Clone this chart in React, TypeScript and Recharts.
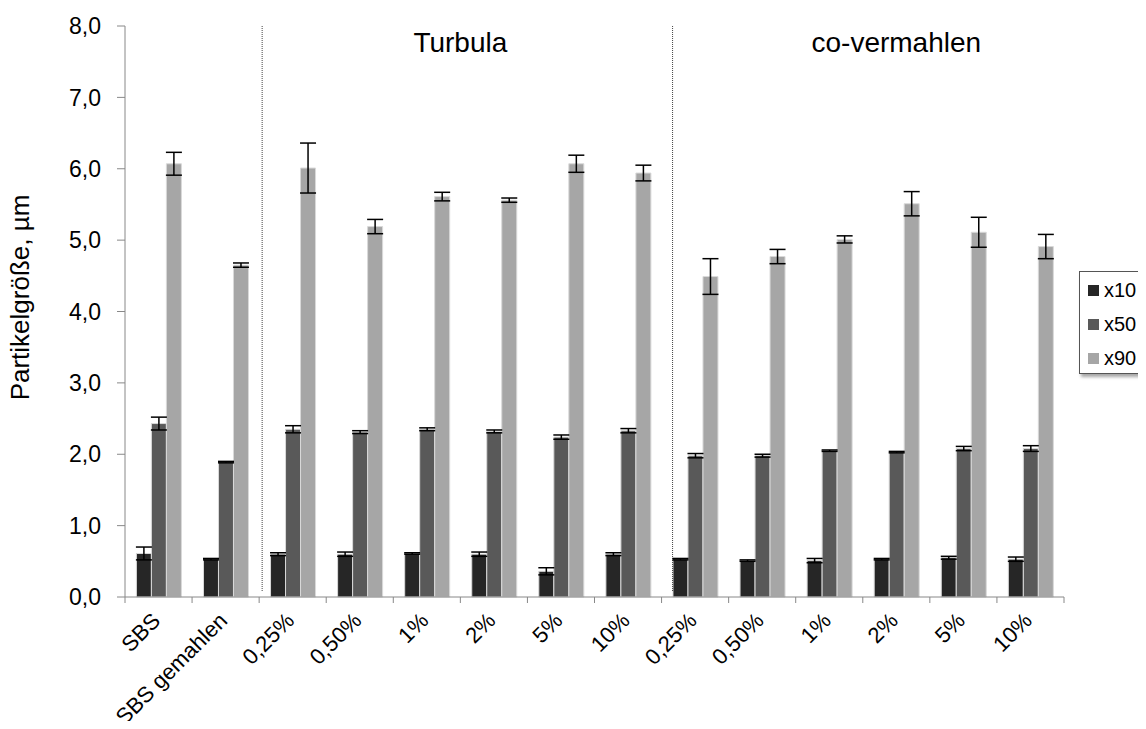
import React from 'react';
import { BarChart, Bar, XAxis, YAxis, ErrorBar, ReferenceLine, Legend } from 'recharts';

const categories = ['SBS', 'SBS gemahlen', '0,25%', '0,50%', '1%', '2%', '5%', '10%', '0,25%', '0,50%', '1%', '2%', '5%', '10%'];
const x10 = [0.61, 0.53, 0.60, 0.60, 0.61, 0.60, 0.36, 0.60, 0.53, 0.51, 0.51, 0.53, 0.55, 0.53];
const x10err = [0.09, 0.01, 0.02, 0.03, 0.01, 0.03, 0.05, 0.02, 0.01, 0.01, 0.03, 0.01, 0.02, 0.03];
const x50 = [2.43, 1.89, 2.35, 2.31, 2.35, 2.32, 2.24, 2.33, 1.98, 1.98, 2.05, 2.03, 2.08, 2.08];
const x50err = [0.09, 0.01, 0.05, 0.02, 0.02, 0.02, 0.03, 0.03, 0.03, 0.02, 0.01, 0.01, 0.03, 0.04];
const x90 = [6.07, 4.65, 6.01, 5.19, 5.61, 5.56, 6.07, 5.94, 4.49, 4.77, 5.01, 5.51, 5.11, 4.91];
const x90err = [0.16, 0.03, 0.35, 0.10, 0.06, 0.03, 0.12, 0.11, 0.25, 0.10, 0.05, 0.17, 0.21, 0.17];
const yTicks = [0, 1, 2, 3, 4, 5, 6, 7, 8];
const seriesNames = ['x10', 'x50', 'x90'];
const seriesColors = ['#262626', '#595959', '#a6a6a6'];
const groupLabels = ['Turbula', 'co-vermahlen'];

const data = categories.map((c, i) => ({
  id: String(i),
  x10: x10[i], x10err: x10err[i],
  x50: x50[i], x50err: x50err[i],
  x90: x90[i], x90err: x90err[i],
}));

const FONT = "'Liberation Sans', Arial, sans-serif";

const XTick = (props: any) => {
  const { x, y, payload, index } = props;
  const half = payload && typeof payload.offset === 'number' && payload.offset > 0 ? payload.offset : 33.5;
  const label = categories[Number(payload.value)];
  const lx = x + 3;
  const ly = y + 25;
  return (
    <g>
      <line x1={x - half} x2={x - half} y1={y} y2={y + 6} stroke="#888" strokeWidth={1} />
      {index === categories.length - 1 && (
        <line x1={x + half} x2={x + half} y1={y} y2={y + 6} stroke="#888" strokeWidth={1} />
      )}
      <text x={lx} y={ly} transform={`rotate(-45 ${lx} ${ly})`} textAnchor="end" fontSize={22} fill="#000">
        {label}
      </text>
    </g>
  );
};

const LegendBox = () => (
  <div
    style={{
      border: '1px solid #555',
      borderRight: 'none',
      background: '#fff',
      boxShadow: '2px 3px 3px rgba(0,0,0,0.35)',
      height: 103,
      width: 67,
      boxSizing: 'border-box',
      paddingTop: 1,
      paddingLeft: 8,
      fontFamily: FONT,
      overflow: 'visible',
    }}
  >
    {seriesNames.map((n, i) => (
      <div key={n} style={{ display: 'flex', alignItems: 'center', height: 34, fontSize: 20, color: '#000', whiteSpace: 'nowrap' }}>
        <span style={{ display: 'inline-block', width: 11, height: 11, background: seriesColors[i], marginRight: 5, flexShrink: 0 }} />
        {n}
      </div>
    ))}
  </div>
);

const YLabel = (props: any) => {
  const vb = props.viewBox || { x: 0, y: 18, width: 117, height: 571 };
  const cy = vb.y + vb.height / 2 - 14;
  return (
    <text x={0} y={0} transform={`translate(21 ${cy}) rotate(-90)`} textAnchor="middle" fontSize={26} fill="#000">
      Partikelgröße, µm
    </text>
  );
};

const makeDivider = (shift: number) => (p: any) => (
  <line
    x1={p.x1 + shift}
    x2={p.x2 + shift}
    y1={p.y1 - 6}
    y2={p.y2}
    stroke="#444"
    strokeWidth={1}
    strokeDasharray="1 1"
  />
);

export default function App() {
  return (
    <div style={{ width: 1138, height: 713, fontFamily: FONT }}>
      <style>{`.recharts-surface { overflow: visible; }`}</style>
      <BarChart
        width={1138}
        height={713}
        data={data}
        margin={{ top: 18, right: 82, left: 0, bottom: 0 }}
        barCategoryGap="17%"
        barGap={0}
      >
        <XAxis
          dataKey="id"
          type="category"
          height={124}
          interval={0}
          tickLine={false}
          tickSize={0}
          tickMargin={0}
          axisLine={{ stroke: '#888' }}
          tick={<XTick />}
        />
        <YAxis
          width={117}
          domain={[0, 8]}
          ticks={yTicks}
          interval={0}
          tickSize={8}
          tickMargin={16}
          axisLine={{ stroke: '#888' }}
          tickLine={{ stroke: '#888' }}
          tick={{ fontSize: 23, fill: '#000' }}
          tickFormatter={(v: number) => v.toFixed(1).replace('.', ',')}
          label={{ content: <YLabel /> }}
        />
        <ReferenceLine x="2" position="start" shape={makeDivider(3)} />
        <ReferenceLine x="8" position="start" shape={makeDivider(11)} />
        <ReferenceLine
          x="5"
          position="start"
          stroke="none"
          label={{ value: groupLabels[0], position: 'insideTop', offset: 6, fontSize: 28, fill: '#000' }}
        />
        <ReferenceLine
          x="11"
          position="middle"
          stroke="none"
          label={{ value: groupLabels[1], position: 'insideTop', offset: 6, fontSize: 28, fill: '#000' }}
        />
        <Legend
          layout="horizontal"
          verticalAlign="middle"
          align="center"
          content={<LegendBox />}
          wrapperStyle={{ left: 1071, top: 263, width: 67 }}
        />
        <Bar dataKey="x10" name="x10" fill={seriesColors[0]} stroke="#d9d9d9" strokeWidth={1} isAnimationActive={false}>
          <ErrorBar dataKey="x10err" width={8} stroke="#000" strokeWidth={1.5} direction="y" isAnimationActive={false} />
        </Bar>
        <Bar dataKey="x50" name="x50" fill={seriesColors[1]} stroke="#d9d9d9" strokeWidth={1} isAnimationActive={false}>
          <ErrorBar dataKey="x50err" width={8} stroke="#000" strokeWidth={1.5} direction="y" isAnimationActive={false} />
        </Bar>
        <Bar dataKey="x90" name="x90" fill={seriesColors[2]} stroke="#d9d9d9" strokeWidth={1} isAnimationActive={false}>
          <ErrorBar dataKey="x90err" width={8} stroke="#000" strokeWidth={1.5} direction="y" isAnimationActive={false} />
        </Bar>
      </BarChart>
    </div>
  );
}
